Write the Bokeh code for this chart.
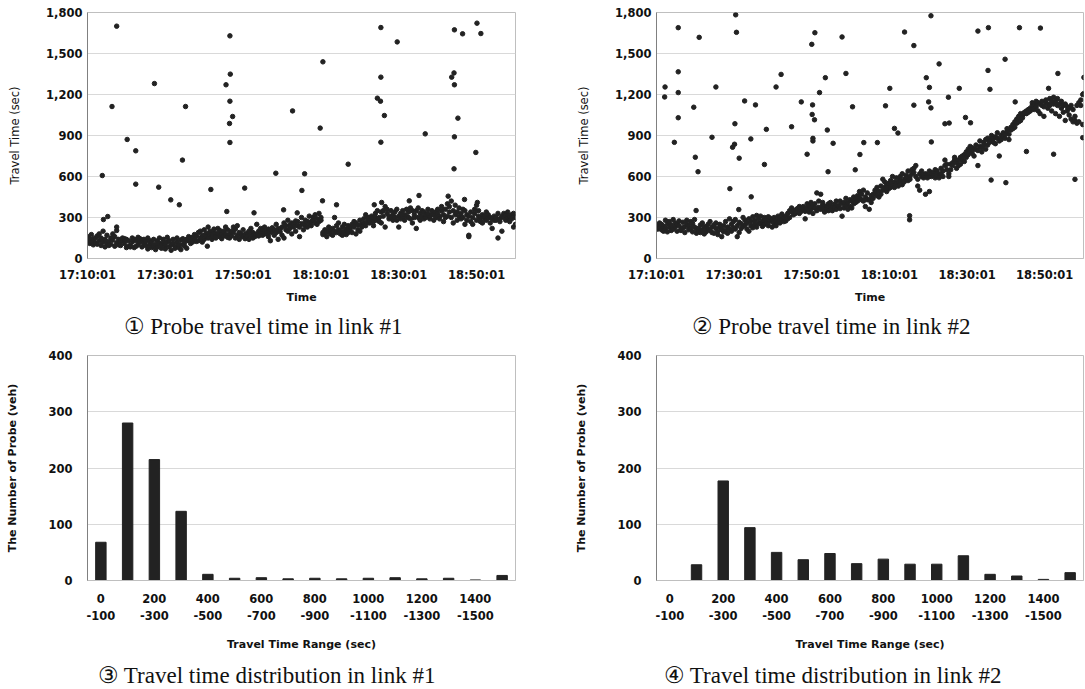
from bokeh.plotting import figure
from bokeh.models import Range1d, FixedTicker, NumeralTickFormatter, Title
from bokeh.layouts import column, row
from bokeh.embed import file_html
from bokeh.resources import INLINE

# ---------------- data ----------------
time_labels = ["17:10:01", "17:30:01", "17:50:01", "18:10:01", "18:30:01", "18:50:01"]
range_labels = ["0\n-100", "200\n-300", "400\n-500", "600\n-700",
                "800\n-900", "1000\n-1100", "1200\n-1300", "1400\n-1500"]

# histogram counts (16 bins of 100 s: 0-100 ... 1500-)
link1_counts = [68, 280, 215, 123, 11, 4, 5, 3, 4, 3, 4, 5, 3, 4, 1, 9]
link2_counts = [0, 28, 177, 94, 50, 37, 48, 30, 38, 29, 29, 44, 11, 8, 2, 14]

# probe travel times: (minutes after 17:10:01, travel time sec, ...)
link1_band = [
    (0.2,160,130),(0.6,145,110),(1.0,120,175),(1.5,100,140),(2.0,150,115),(2.5,165,105),(3.0,130,180),
    (3.5,95,150),(4.0,120,200),(4.5,140,85),(5.0,110,170),(5.5,125,95),(6.0,150,105),(6.5,135,180),
    (7.0,90,160),(7.5,115,205,230),(8.0,140,100),(8.5,95,125),(9.0,130,150),(9.5,110,145),(10.0,80,140),
    (10.5,90,130),(11.0,85,95),(11.5,150,120),(12.0,140,80),(12.5,130,90),(13.0,100,155),(13.5,120,145),
    (14.0,85,135),(14.5,110,140),(15.0,95,125),(15.5,70,150),(16.0,100,130),(16.5,120,80),(17.0,90,140),
    (17.5,65,105),(18.0,130,85),(18.5,110,150),(19.0,75,100),(19.5,140,120),(20.0,95,70),(20.5,120,155),
    (21.0,85,130),(21.5,60,100),(22.0,140,110),(22.5,90,75),(23.0,120,150),(23.5,80,105),(24.0,135,65),
    (24.5,100,145),(25.0,120,90),(25.5,75,140),(26.0,130,160),(26.5,110,150),(27.0,155,120),(27.5,140,175),
    (28.0,165,125),(28.5,130,190),(29.0,150,200),(29.5,170,120),(30.0,210,140),(30.5,185,160),(31.0,150,230),
    (31.5,200,175),(32.0,140,165),(32.5,190,215),(33.0,170,150),(33.5,220,185),(34.0,160,205),(34.5,180,145),
    (35.0,200,165),(35.5,175,230),(36.0,210,155),(36.5,180,150),(37.0,165,200),(37.5,230,190),(38.0,150,215),
    (38.5,170,240),(39.0,140,190),(39.5,180,165),(40.0,160,210),(40.5,175,145),(41.0,185,160),(41.5,140,200),
    (42.0,170,220),(42.5,190,150),(43.0,160,180),(43.5,250,175),(44.0,200,165),(44.5,190,220),(45.0,170,210),
    (45.5,230,185),(46.0,180,200),(46.5,215,160),(47.0,190,130),(47.5,200,225),(48.0,170,210),(48.5,250,190),
    (49.0,140,220),(49.5,215,195),(50.0,230,170),(50.5,150,260),(51.0,240,210),(51.5,200,280),(52.0,220,245),
    (52.5,180,260),(53.0,250,230),(53.5,200,275),(54.0,270,240),(54.5,160,230),(55.0,300,255),(55.5,250,210),
    (56.0,280,240),(56.5,230,270),(57.0,310,260),(57.5,270,240),(58.0,300,280),(58.5,260,320),(59.0,290,250),
    (59.5,330,270),(60.0,300,280),(60.5,190,175),(61.0,210,180),(61.5,160,200),(62.0,230,195),(62.5,180,210),
    (63.0,220,170),(63.5,300,200),(64.0,190,240),(64.5,210,260),(65.0,180,200),(65.5,230,170),(66.0,200,250),
    (66.5,175,215),(67.0,240,190),(67.5,210,230),(68.0,190,250),(68.5,230,270),(69.0,260,180),(69.5,245,210),
    (70.0,280,200),(70.5,250,230),(71.0,290,260),(71.5,320,240),(72.0,270,300),(72.5,260,280),(73.0,310,290),
    (73.5,240,270),(74.0,330,300),(74.5,280,350),(75.0,300,270),(75.5,340,260),(76.0,350,310),(76.5,230,380),
    (77.0,330,360),(77.5,290,310),(78.0,350,300),(78.5,320,280),(79.0,300,340),(79.5,280,360),(80.0,230,310),
    (80.5,330,290),(81.0,300,350),(81.5,280,320),(82.0,310,360),(82.5,340,300),(83.0,290,370),(83.5,260,350),
    (84.0,320,300),(84.5,350,220),(85.0,300,370),(85.5,280,330),(86.0,310,350),(86.5,340,290),(87.0,300,320),
    (87.5,330,360),(88.0,290,310),(88.5,350,320),(89.0,320,280),(89.5,300,340),(90.0,330,360),(90.5,310,290),
    (91.0,350,380),(91.5,270,320),(92.0,360,300),(92.5,310,400),(93.0,380,340),(93.5,420,300),(94.0,350,260),
    (94.5,320,390),(95.0,280,340),(95.5,370,310),(96.0,330,290),(96.5,300,360),(97.0,350,250),(97.5,280,320),
    (98.0,310,170,160),(98.5,270,340),(99.0,300,250),(99.5,330,360),(100.0,390,280),(100.5,350,310),
    (101.0,270,300),(101.5,320,260),(102.0,290,310),(102.5,340,280),(103.0,300,320),(103.5,260,300),
    (104.0,290,220),(104.5,310,280),(105.0,280,300),(105.5,330,150),(106.0,290,270),(106.5,310,200),
    (107.0,330,300),(107.5,280,320),(108.0,300,340),(108.5,310,270),(109.0,290,320),(109.5,330,230),(110.0,300,250),
]
link1_outliers = [
    (3.8,607),(5.2,307),(4.1,285),(7.5,1700),(6.3,1112),(10.2,871),(12.4,788),(12.4,544),(17.2,1280),
    (18.3,522),(21.4,429),(24.4,720),(23.6,393),(25.2,1112),(31.7,505),(30.8,90),(35.6,1271),(36.6,1629),
    (36.7,1349),(36.6,1151),(36.5,988),(37.3,1039),(36.6,849),(35.8,344),(40.4,515),(42.8,334),(48.4,624),
    (50.4,356),(52.7,1080),(53.9,334),(55.1,498),(55.8,620),(59.8,954),(60.5,1439),(60.4,422),(64.0,393),
    (67.0,690),(74.5,1173),(75.3,1151),(75.4,1690),(75.4,1327),(76.3,1046),(75.4,851),(73.7,393),(75.6,410),
    (79.6,1585),(85.2,461),(82.7,422),(86.8,912),(93.6,1327),(94.2,1358),(94.3,1271),(94.3,1673),(96.4,1644),
    (95.2,1027),(94.3,890),(94.2,656),(92.7,456),(100.1,1722),(101.1,1646),(99.8,776),(96.9,432),(100.2,410),
]

link2_band = [
    (0.3,240,215),(0.8,225,260),(1.3,210,250),(1.8,235,200),(2.3,280,220),(2.8,255,195),(3.3,230,270),
    (3.8,205,245),(4.3,285,215),(4.8,260,230),(5.3,200,250),(5.8,240,275),(6.3,215,205),(6.8,265,225),
    (7.3,230,190),(7.8,250,280),(8.3,210,240),(8.8,270,220),(9.3,195,255),(9.8,285,230),(10.3,185,215),
    (10.8,220,200),(11.3,190,245),(11.8,260,210),(12.3,235,180),(12.8,195,225),(13.3,250,215),(13.8,205,270),
    (14.3,230,190),(14.8,185,245),(15.3,220,260),(15.8,200,175),(16.3,250,230),(16.8,160,210),(17.3,240,195),
    (17.8,205,270),(18.3,230,185),(18.8,290,215),(19.3,200,250),(19.8,270,225),(20.3,215,285),(20.8,240,160),
    (21.3,190,265),(21.8,255,220),(22.3,300,235),(22.8,245,280),(23.3,215,260),(23.8,200,290),(24.3,270,240),
    (24.8,305,225),(25.3,250,280),(25.8,230,315),(26.3,290,260),(26.8,255,310),(27.3,235,275),(27.8,300,250),
    (28.3,265,290),(28.8,240,305),(29.3,295,270),(29.8,230,285),(30.3,255,300),(30.8,280,240),(31.3,310,265),
    (31.8,260,295),(32.3,285,325),(32.8,300,270),(33.3,275,310),(33.8,330,290),(34.3,300,350),(34.8,340,370),
    (35.3,320,355),(35.8,350,330),(36.3,365,340),(36.8,330,380),(37.3,355,345),(37.8,380,360),(38.3,345,290),
    (38.8,370,400),(39.3,390,340),(39.8,360,410),(40.3,330,380),(40.8,400,370),(41.3,480,350),(41.8,375,420),
    (42.3,360,470),(42.8,390,410),(43.3,370,340),(43.8,385,360),(44.3,350,400),(44.8,410,380),(45.3,375,350),
    (45.8,395,370),(46.3,360,420),(46.8,380,390),(47.3,420,365),(47.8,400,310),(48.3,370,410),(48.8,440,390),
    (49.3,410,360),(49.8,380,430),(50.3,420,370),(50.8,400,450),(51.3,430,410),(51.8,460,420),(52.3,440,490),
    (52.8,470,430),(53.3,420,500),(53.8,450,380),(54.3,480,430),(54.8,430,360),(55.3,410,460),(55.8,470,440),
    (56.3,500,480),(56.8,460,520),(57.3,490,450),(57.8,530,470),(58.3,580,500),(58.8,520,560),(59.3,490,540),
    (59.8,550,510),(60.3,570,520),(60.8,540,600),(61.3,520,560),(61.8,590,550),(62.3,560,530),(62.8,600,570),
    (63.3,540,620),(63.8,580,560),(64.3,610,590),(64.8,570,640),(65.3,600,580),(65.8,650,620),(66.3,630,660),
    (66.8,600,680),(67.3,580,530),(67.8,620,500),(68.3,600,640),(68.8,590,610),(69.3,470,620),(69.8,610,590),
    (70.3,490,640),(70.8,600,620),(71.3,630,610),(71.8,590,650),(72.3,640,620),(72.8,610,590),(73.3,620,660),
    (73.8,600,640),(74.3,720,680),(74.8,690,650),(75.3,620,600),(75.8,650,690),(76.3,700,680),(76.8,740,720),
    (77.3,660,700),(77.8,720,680),(78.3,690,740),(78.8,750,720),(79.3,710,760),(79.8,780,740),(80.3,760,800),
    (80.8,820,790),(81.3,770,810),(81.8,800,750),(82.3,830,800),(82.8,790,680),(83.3,820,860),(83.8,810,780),
    (84.3,850,830),(84.8,870,800),(85.3,830,880),(85.8,860,850),(86.3,900,870),(86.8,850,880),(87.3,890,840),
    (87.8,880,920),(88.3,750,860),(88.8,900,870),(89.3,920,890),(89.8,880,910),(90.3,950,930),(90.8,910,870),
    (91.3,940,960),(91.8,980,950),(92.3,960,1000),(92.8,1020,990),(93.3,1040,1000),(93.8,1010,1060),
    (94.3,1050,1030),(94.8,1070,1060),(95.3,1080,1060),(95.8,1090,1070),(96.3,1080,1100),(96.8,1120,1140),
    (97.3,1130,1090),(97.8,1150,1110),(98.3,1140,1080),(98.8,1060,1130),(99.3,1150,1120),(99.8,1110,1040),
    (100.3,1140,1160),(100.8,1130,1100),(101.3,1170,1120),(101.8,1150,1080),(102.3,1180,1130),(102.8,1060,1150),
    (103.3,1120,1170),(103.8,1040,1130),(104.3,1100,1150),(104.8,1120,1070),(105.3,1010,1130),(105.8,1080,1110),
    (106.3,1050,1100),(106.8,1120,1020),(107.3,1000,1090),(107.8,1040,1010),(108.3,1120,990),(108.8,1140,1000),
    (109.3,1160,1120),(109.8,1200,980),
]
link2_outliers = [
    (2.2,1255),(2.1,1182),(5.6,1689),(5.6,1366),(5.6,1214),(5.6,1030),(4.6,850),(9.6,1107),(10.0,741),
    (10.7,635),(11.0,1618),(10.2,351),(14.3,887),(15.3,1255),(18.9,511),(20.4,1783),(20.6,1655),(20.2,986),
    (20.1,836),(19.6,814),(21.3,734),(21.2,358),(22.7,1153),(24.3,875),(24.4,451),(25.5,1124),(28.3,945),
    (27.8,688),(30.8,1255),(32.1,1347),(34.8,964),(37.3,1146),(38.8,763),(40.0,1567),(40.8,1652),(40.2,1124),
    (40.1,1054),(40.7,1015),(40.3,879),(40.3,860),(42.0,1214),(43.5,1323),(44.0,940),(44.2,635),(45.5,843),
    (47.8,1621),(48.8,1354),(50.5,1110),(51.2,649),(52.4,761),(53.4,848),(56.9,848),(59.0,1117),(60.1,1245),
    (61.3,952),(62.2,918),(63.9,1657),(66.3,1558),(66.3,1122),(65.2,313),(65.2,283),(69.5,1323),(70.3,1252),
    (70.1,1146),(70.7,1102),(70.7,1776),(70.8,853),(72.8,1424),(74.3,986),(75.4,991),(75.2,1180),(78.0,1245),
    (79.6,1032),(80.9,993),(82.8,1664),(85.5,1689),(85.4,1376),(85.9,1238),(86.2,574),(89.8,1458),(90.0,555),
    (92.4,1146),(93.5,1689),(95.3,783),(98.9,1686),(101.0,1245),(103.4,1354),(102.3,763),(107.8,579),
    (110.1,1325),(109.8,884),(110.0,1206),
]

captions = ["\u2460 Probe travel time in link #1", "\u2461 Probe travel time in link #2",
            "\u2462 Travel time distribution in link #1", "\u2463 Travel time distribution in link #2"]

# ---------------- styling helpers ----------------
DARK = "#222222"
TICK_FONT = "DejaVu Sans"


def expand(band, outliers):
    xs, ys = [], []
    for row_ in band:
        for v in row_[1:]:
            xs.append(row_[0]); ys.append(v)
    for t, v in outliers:
        xs.append(t); ys.append(v)
    return xs, ys


def style(p, y_label, x_label):
    p.xgrid.visible = False
    p.ygrid.grid_line_color = "#d9d9d9"
    p.ygrid.grid_line_width = 1
    p.outline_line_color = "#bfbfbf"
    p.background_fill_color = "white"
    p.border_fill_color = "white"
    for ax in (p.xaxis[0], p.yaxis[0]):
        ax.major_tick_in = 0
        ax.major_tick_out = 0
        ax.minor_tick_line_color = None
        ax.major_tick_line_color = None
        ax.major_label_text_font = TICK_FONT
        ax.major_label_text_font_style = "bold"
        ax.major_label_text_font_size = "11.5px"
        ax.major_label_text_color = "#111111"
        ax.axis_label_text_font = TICK_FONT
        ax.axis_label_text_font_style = "bold"
        ax.axis_label_text_font_size = "11px"
        ax.axis_label_text_color = "#111111"
    p.yaxis[0].axis_line_color = "#808080"
    p.xaxis[0].axis_line_color = "#bfbfbf"
    p.yaxis[0].axis_label = y_label
    p.xaxis[0].axis_label = x_label


def add_caption(p, text, offset, standoff):
    t = Title(text=text, align="left", offset=offset, standoff=standoff,
              text_font="Liberation Serif", text_font_style="normal",
              text_font_size="23px", text_color="#111111")
    p.add_layout(t, "below")


def scatter_fig(band, outliers, left, fw, right, caption, cap_offset):
    p = figure(output_backend="svg", toolbar_location=None,
               frame_width=fw, frame_height=246,
               min_border_left=left, min_border_right=right,
               min_border_top=12, min_border_bottom=86,
               x_range=Range1d(0, 110), y_range=Range1d(0, 1800))
    xs, ys = expand(band, outliers)
    p.scatter(xs, ys, size=4.5, color=DARK, line_color=DARK)
    style(p, "Travel Time (sec)", "Time")
    p.yaxis[0].axis_label_text_font_style = "normal"
    p.yaxis[0].axis_label_text_font_size = "11.5px"
    p.yaxis[0].ticker = FixedTicker(ticks=[0, 300, 600, 900, 1200, 1500, 1800])
    p.yaxis[0].formatter = NumeralTickFormatter(format="0,0")
    p.yaxis[0].major_label_standoff = 5
    p.yaxis[0].axis_label_standoff = 21
    ticks = [i * 20 for i in range(len(time_labels))]
    p.xaxis[0].ticker = FixedTicker(ticks=ticks)
    p.xaxis[0].major_label_overrides = {t: lab for t, lab in zip(ticks, time_labels)}
    p.xaxis[0].major_label_standoff = 9
    p.xaxis[0].axis_label_standoff = 6
    add_caption(p, caption, cap_offset, 10)
    return p


def hist_fig(counts, left, fw, right, caption, cap_offset):
    p = figure(output_backend="svg", toolbar_location=None,
               frame_width=fw, frame_height=225,
               min_border_left=left, min_border_right=right,
               min_border_top=11, min_border_bottom=106,
               x_range=Range1d(-0.5, len(counts) - 0.5), y_range=Range1d(0, 400))
    p.vbar(x=list(range(len(counts))), top=counts, width=0.39, color=DARK)
    style(p, "The Number of Probe (veh)", "Travel Time Range (sec)")
    p.yaxis[0].ticker = FixedTicker(ticks=[0, 100, 200, 300, 400])
    p.yaxis[0].major_label_standoff = 15
    p.yaxis[0].axis_label_standoff = 26
    ticks = [i * 2 for i in range(len(range_labels))]
    p.xaxis[0].ticker = FixedTicker(ticks=ticks)
    p.xaxis[0].major_label_overrides = {t: lab for t, lab in zip(ticks, range_labels)}
    p.xaxis[0].major_label_standoff = 11
    p.xaxis[0].major_label_text_line_height = 1.25
    p.xaxis[0].axis_label_standoff = 12
    add_caption(p, caption, cap_offset, 12)
    return p


p1 = scatter_fig(link1_band, link1_outliers, 87, 428, 30, captions[0], 36)
p2 = scatter_fig(link2_band, link2_outliers, 111, 427, 1, captions[1], 35)
p3 = hist_fig(link1_counts, 87, 428, 30, captions[2], 10)
p4 = hist_fig(link2_counts, 111, 427, 1, captions[3], 7)

layout = column(row(p1, p2), row(p3, p4))
open("out.html", "w").write(file_html(layout, INLINE))
